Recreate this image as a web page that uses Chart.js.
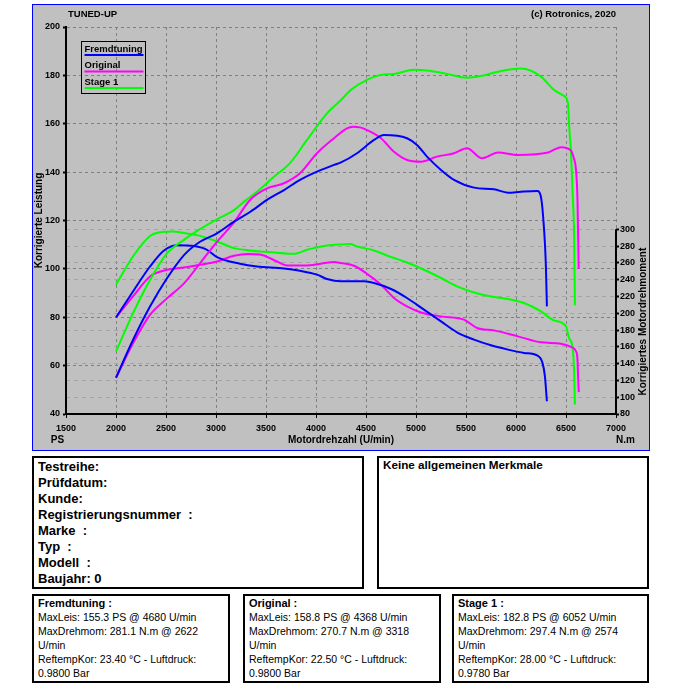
<!DOCTYPE html>
<html>
<head>
<meta charset="utf-8">
<script src="https://cdn.jsdelivr.net/npm/chart.js@4/dist/chart.umd.min.js"></script>
<style>
  body { margin: 0; width: 685px; height: 685px; position: relative; background: #fff; font-family: "Liberation Sans", Arial, sans-serif; color: #000; }
  #frame { position: absolute; left: 32px; top: 4px; width: 616px; height: 445px; border: 1px solid #0000ff; background: #c0c0c0; }
  #frame canvas { display: block; }
  .box { position: absolute; border: 2px solid #000; box-sizing: border-box; background: #fff; white-space: nowrap; }
  .big { font: bold 13px/16px "Liberation Sans", Arial, sans-serif; padding-left: 4px; }
  .hdr { font: bold 11.7px/14px "Liberation Sans", Arial, sans-serif; padding-left: 4px; }
  .res div { font: 10.5px/14px "Liberation Sans", Arial, sans-serif; padding-left: 4px; }
  .res div.t { font: bold 11px/14px "Liberation Sans", Arial, sans-serif; }
</style>
</head>
<body>
<div id="frame"><canvas id="dyno" width="616" height="445"></canvas></div>

<div class="box" style="left:32px;top:456px;width:332px;height:133px;padding-top:1px;">
  <div class="big">Testreihe:</div>
  <div class="big">Prüfdatum:</div>
  <div class="big">Kunde:</div>
  <div class="big">Registrierungsnummer&nbsp; :</div>
  <div class="big">Marke&nbsp; :</div>
  <div class="big">Typ&nbsp; :</div>
  <div class="big">Modell&nbsp; :</div>
  <div class="big">Baujahr: 0</div>
</div>
<div class="box" style="left:377px;top:456px;width:272px;height:133px;">
  <div class="hdr">Keine allgemeinen Merkmale</div>
</div>

<div class="box res" style="left:32px;top:594px;width:198px;height:89px;">
  <div class="t">Fremdtuning :</div>
  <div>MaxLeis: 155.3 PS @ 4680 U/min</div>
  <div>MaxDrehmom: 281.1 N.m @ 2622</div>
  <div>U/min</div>
  <div>ReftempKor: 23.40 °C - Luftdruck:</div>
  <div>0.9800 Bar</div>
</div>
<div class="box res" style="left:243px;top:594px;width:198px;height:89px;">
  <div class="t">Original :</div>
  <div>MaxLeis: 158.8 PS @ 4368 U/min</div>
  <div>MaxDrehmom: 270.7 N.m @ 3318</div>
  <div>U/min</div>
  <div>ReftempKor: 22.50 °C - Luftdruck:</div>
  <div>0.9800 Bar</div>
</div>
<div class="box res" style="left:452px;top:594px;width:197px;height:89px;">
  <div class="t">Stage 1 :</div>
  <div>MaxLeis: 182.8 PS @ 6052 U/min</div>
  <div>MaxDrehmom: 297.4 N.m @ 2574</div>
  <div>U/min</div>
  <div>ReftempKor: 28.00 °C - Luftdruck:</div>
  <div>0.9780 Bar</div>
</div>

<script>
const rpmTicks = [1500, 2000, 2500, 3000, 3500, 4000, 4500, 5000, 5500, 6000, 6500, 7000];
const psTicks = [40, 60, 80, 100, 120, 140, 160, 180, 200];
const nmTicks = [80, 100, 120, 140, 160, 180, 200, 220, 240, 260, 280, 300];

// Fremdtuning
const fremdPsRpm = [2000, 2170, 2340, 2510, 2680, 2840, 3010, 3180, 3340, 3510, 3680, 3840, 4010, 4180, 4250, 4410, 4580, 4680, 4910, 5010, 5110, 5250, 5380, 5580, 5780, 5920, 6050, 6215, 6245, 6262, 6276, 6289, 6299, 6309];
const fremdPs = [55, 70.6, 84.4, 96.1, 105.7, 111.2, 114.7, 119.5, 123.5, 128.5, 132.6, 136.8, 140.2, 143, 144, 147.8, 153.3, 155.3, 154, 151.2, 146.4, 140.9, 136.8, 133.6, 132.9, 131.5, 131.9, 132.2, 130.5, 126, 119, 110.6, 101, 84.5];
const fremdNmRpm = [2000, 2170, 2340, 2480, 2620, 2780, 2910, 3010, 3240, 3410, 3680, 3840, 4010, 4110, 4250, 4480, 4580, 4750, 4910, 5080, 5250, 5410, 5580, 5750, 5920, 6080, 6215, 6265, 6289, 6309];
const fremdNm = [195, 226, 255.7, 274.8, 281.1, 280, 275.6, 267, 259, 255.7, 253.4, 250.6, 246, 240.8, 238, 238, 236, 228.9, 218.2, 204.3, 190.3, 177.3, 168.6, 161.8, 156.7, 152.8, 149.6, 140.9, 125, 95.2];

// Original
const origPsRpm = [2000, 2170, 2340, 2510, 2680, 2840, 3010, 3180, 3340, 3510, 3680, 3840, 4010, 4180, 4310, 4370, 4440, 4510, 4650, 4780, 4910, 5050, 5210, 5380, 5510, 5660, 5820, 6020, 6320, 6450, 6550, 6580, 6600, 6615, 6622, 6627];
const origPs = [55, 69.2, 81, 87.8, 94, 102.3, 111.2, 119.2, 128.5, 133.3, 135.4, 139.5, 147.8, 154, 158.1, 158.8, 158.5, 157.4, 154, 148.4, 145, 144.3, 146.4, 147.8, 149.9, 145.7, 148.1, 147.1, 148.1, 150.3, 148.9, 145.5, 141, 128.5, 112, 100];
const origNmRpm = [2000, 2170, 2340, 2510, 2680, 2840, 3010, 3180, 3320, 3440, 3610, 3710, 3910, 4180, 4250, 4380, 4510, 4650, 4780, 4910, 5050, 5250, 5480, 5610, 5780, 6020, 6250, 6450, 6550, 6600, 6615, 6622, 6628];
const origNm = [195, 220, 243.8, 251.8, 254.5, 257.8, 261.7, 268.5, 270.7, 270, 261.7, 257, 257, 261, 259.8, 256.6, 247, 234, 218.2, 208.2, 201, 196.3, 192.4, 182.5, 179.6, 172.5, 165.4, 163.8, 159.9, 154.7, 145, 121, 106];

// Stage 1
const stagePsRpm = [2000, 2170, 2340, 2510, 2680, 2840, 3010, 3180, 3280, 3410, 3580, 3740, 3910, 4110, 4250, 4350, 4510, 4650, 4780, 4980, 5110, 5310, 5510, 5650, 5820, 5980, 6050, 6250, 6380, 6480, 6520, 6532, 6549, 6566, 6582, 6589];
const stagePs = [65.8, 81.6, 95.4, 106.4, 112, 116.4, 120.5, 124.3, 127.8, 131.9, 138.1, 143.7, 153.3, 164.3, 169.8, 174, 178.1, 180.2, 180.6, 182.3, 182, 180.6, 179, 179.7, 181.5, 182.6, 182.8, 179.5, 174, 171.5, 168.4, 158.8, 149.2, 131.4, 112, 85];
const stageNmRpm = [2000, 2170, 2340, 2440, 2570, 2680, 2840, 3010, 3180, 3340, 3580, 3780, 3910, 4110, 4250, 4340, 4410, 4580, 4750, 4910, 5080, 5250, 5410, 5580, 5750, 5920, 6080, 6250, 6380, 6500, 6530, 6566, 6582, 6589];
const stageNm = [234, 267.6, 292, 296.5, 297.4, 295.5, 292.2, 285.5, 277.6, 274.8, 272.4, 270.8, 275.6, 280.7, 282, 282.4, 279.5, 274.8, 267, 260.5, 251.8, 242, 232, 224.8, 220, 217, 212.2, 202.2, 191.5, 184.4, 170.6, 158.7, 129, 91.3];

const FONT = '"Liberation Sans", Arial, sans-serif';
Chart.defaults.font.family = FONT;
Chart.defaults.color = '#000';

function pts(xs, ys) {
  return xs.map((x, i) => ({ x, y: ys[i] }));
}

function curve(label, color, data, axis, inLegend) {
  return {
    label,
    data,
    yAxisID: axis,
    borderColor: color,
    borderWidth: 2,
    pointRadius: 0,
    pointHitRadius: 0,
    fill: false,
    cubicInterpolationMode: 'monotone',
    inLegend,
  };
}

const dynoDecor = {
  id: 'dynoDecor',
  beforeDraw(chart) {
    const ctx = chart.ctx;
    ctx.save();
    ctx.fillStyle = '#c0c0c0';
    ctx.fillRect(0, 0, chart.width, chart.height);
    ctx.restore();
  },
  beforeDatasetsDraw(chart) {
    const { ctx } = chart;
    const y2 = chart.scales.y2;
    const top = y2.getPixelForValue(nmTicks[nmTicks.length - 1]);
    const bottom = y2.getPixelForValue(nmTicks[0]);
    ctx.save();
    ctx.strokeStyle = '#000';
    ctx.lineWidth = 2;
    ctx.beginPath();
    ctx.moveTo(y2.left, top);
    ctx.lineTo(y2.left, bottom + 1);
    ctx.stroke();
    ctx.restore();
  },
  afterDraw(chart) {
    const { ctx, chartArea } = chart;
    const y2 = chart.scales.y2;
    ctx.save();
    ctx.fillStyle = '#000';
    ctx.textBaseline = 'middle';

    ctx.font = 'bold 9.5px ' + FONT;
    ctx.textAlign = 'left';
    ctx.fillText('TUNED-UP', 35, 9);
    ctx.textAlign = 'right';
    ctx.fillText('(c) Rotronics, 2020', chartArea.right, 9);

    ctx.font = 'bold 10px ' + FONT;
    ctx.textAlign = 'center';
    ctx.fillText('PS', 24.5, 435);
    ctx.textAlign = 'left';
    ctx.fillText('N.m', chartArea.right, 435);

    // right axis title, centred on the 80..300 part of the axis
    const midY = (y2.getPixelForValue(nmTicks[0]) + y2.getPixelForValue(nmTicks[nmTicks.length - 1])) / 2;
    ctx.save();
    ctx.translate(610, midY);
    ctx.rotate(-Math.PI / 2);
    ctx.textAlign = 'center';
    ctx.fillText('Korrigiertes Motordrehmoment', 0, 0);
    ctx.restore();

    // legend box
    ctx.strokeStyle = '#000';
    ctx.lineWidth = 1;
    ctx.strokeRect(48.5, 36.5, 64, 52);
    ctx.font = 'bold 9.5px ' + FONT;
    ctx.textAlign = 'left';
    ctx.textBaseline = 'alphabetic';
    chart.data.datasets.filter(d => d.inLegend).forEach((d, i) => {
      const base = 46.5 + i * 16.5;
      ctx.fillStyle = '#000';
      ctx.fillText(d.label, 51.5, base);
      ctx.fillStyle = d.borderColor;
      ctx.fillRect(51.5, base + 2.5, 59, 2);
    });
    ctx.restore();
  },
};

const tickFont = { size: 9, weight: 'bold' };
const titleFont = { size: 10, weight: 'bold' };
const plain = v => String(v);

new Chart(document.getElementById('dyno').getContext('2d'), {
  type: 'line',
  data: {
    datasets: [
      curve('Fremdtuning', '#0000ff', pts(fremdPsRpm, fremdPs), 'y', true),
      curve('Original', '#ff00ff', pts(origPsRpm, origPs), 'y', true),
      curve('Stage 1', '#00ff00', pts(stagePsRpm, stagePs), 'y', true),
      curve('Fremdtuning', '#0000ff', pts(fremdNmRpm, fremdNm), 'y2', false),
      curve('Original', '#ff00ff', pts(origNmRpm, origNm), 'y2', false),
      curve('Stage 1', '#00ff00', pts(stageNmRpm, stageNm), 'y2', false),
    ],
  },
  options: {
    responsive: false,
    animation: false,
    events: [],
    layout: { padding: { top: 22, left: 0, right: 0, bottom: 0 } },
    plugins: {
      legend: { display: false },
      tooltip: { enabled: false },
    },
    scales: {
      x: {
        type: 'linear',
        position: 'bottom',
        min: 1500,
        max: 7000,
        afterBuildTicks: s => { s.ticks = rpmTicks.map(v => ({ value: v })); },
        afterFit: s => { s.height = 36; },
        ticks: { font: tickFont, color: '#000', padding: 5, maxRotation: 0, autoSkip: false, callback: plain },
        grid: { color: '#808080', lineWidth: 1, tickLength: 4, tickColor: '#000', tickWidth: 1 },
        border: { color: '#000', width: 2, dash: [3, 3] },
        title: { display: true, text: 'Motordrehzahl (U/min)', font: titleFont, color: '#000', padding: { top: 0, bottom: 4 } },
      },
      y: {
        type: 'linear',
        position: 'left',
        min: 40,
        max: 200,
        afterBuildTicks: s => { s.ticks = psTicks.map(v => ({ value: v })); },
        afterFit: s => { s.width = 33; },
        ticks: { font: tickFont, color: '#000', padding: 3, callback: plain },
        grid: { color: '#808080', lineWidth: 1, tickLength: 3, tickColor: '#000', tickWidth: 2 },
        border: { color: '#000', width: 2, dash: [3, 3] },
        title: { display: true, text: 'Korrigierte Leistung', font: titleFont, color: '#000', padding: { top: 0, bottom: 0 } },
      },
      y2: {
        type: 'linear',
        position: 'right',
        min: 80,
        max: 541,
        afterBuildTicks: s => { s.ticks = nmTicks.map(v => ({ value: v })); },
        afterFit: s => { s.width = 33; },
        ticks: { font: tickFont, color: '#000', padding: 1, callback: plain },
        grid: { color: '#a4a4a4', lineWidth: 1, tickLength: 3, tickColor: '#000', tickWidth: 2 },
        border: { display: false, dash: [4, 4] },
      },
    },
  },
  plugins: [dynoDecor],
});
</script>
</body>
</html>
